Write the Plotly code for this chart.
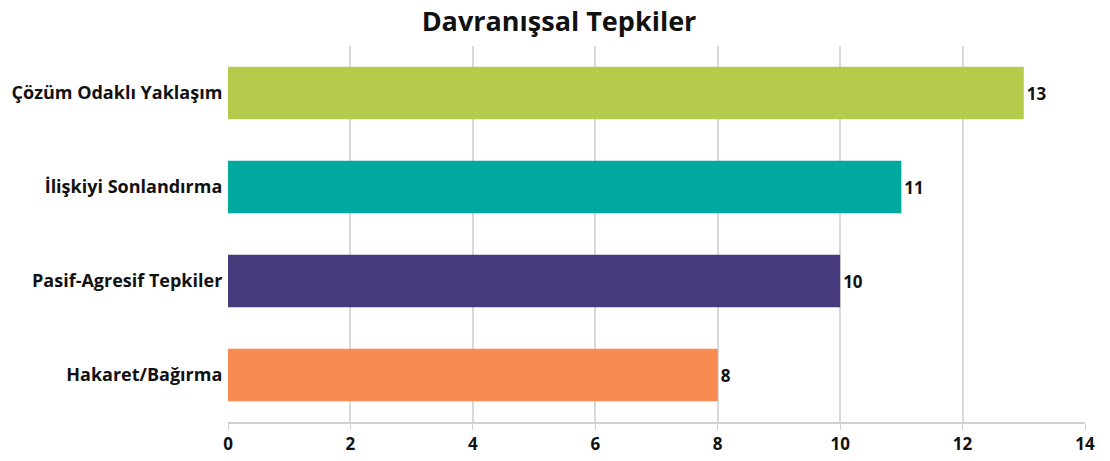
import plotly.graph_objects as go

# data
categories = [
    "Hakaret/Bağırma",
    "Pasif-Agresif Tepkiler",
    "İlişkiyi Sonlandırma",
    "Çözüm Odaklı Yaklaşım",
]
values = [8, 10, 11, 13]
colors = ["#F88A52", "#463A7D", "#00A99D", "#B4CB4C"]
x_ticks = [0, 2, 4, 6, 8, 10, 12, 14]

# the page body adds an 8px offset, so the figure is a bit smaller
fig_w, fig_h = 1102, 453

fig = go.Figure()
fig.add_trace(
    go.Bar(
        x=values,
        y=categories,
        orientation="h",
        marker=dict(color=colors, line=dict(width=0)),
        text=values,
        textposition="outside",
        textfont=dict(family="Open Sans", size=17, color="#111111", weight="bold"),
        cliponaxis=False,
        hoverinfo="skip",
    )
)

fig.update_layout(
    title=dict(
        text="<b>Davranışsal Tepkiler</b>",
        x=0.5,
        xanchor="center",
        y=1 - 14 / fig_h,
        yanchor="middle",
        font=dict(family="Open Sans", size=27, color="#111111"),
    ),
    width=fig_w,
    height=fig_h,
    margin=dict(l=220, r=25, t=38, b=39),
    plot_bgcolor="white",
    paper_bgcolor="white",
    bargap=0.44,
    showlegend=False,
    font=dict(family="Open Sans", color="#111111"),
    xaxis=dict(
        range=[0, 14],
        tickvals=x_ticks,
        automargin=False,
        showgrid=True,
        gridcolor="#D9D9D9",
        gridwidth=1.5,
        zeroline=False,
        showline=True,
        linecolor="#D0D0D0",
        linewidth=2,
        ticks="outside",
        ticklen=6,
        tickcolor="#D0D0D0",
        tickfont=dict(family="Open Sans", size=17, color="#111111", weight="bold"),
    ),
    yaxis=dict(
        automargin=False,
        showgrid=False,
        showline=False,
        ticks="",
        ticksuffix=" ",
        tickfont=dict(family="Open Sans", size=18, color="#111111", weight="bold"),
    ),
)

fig.write_html("out.html")
